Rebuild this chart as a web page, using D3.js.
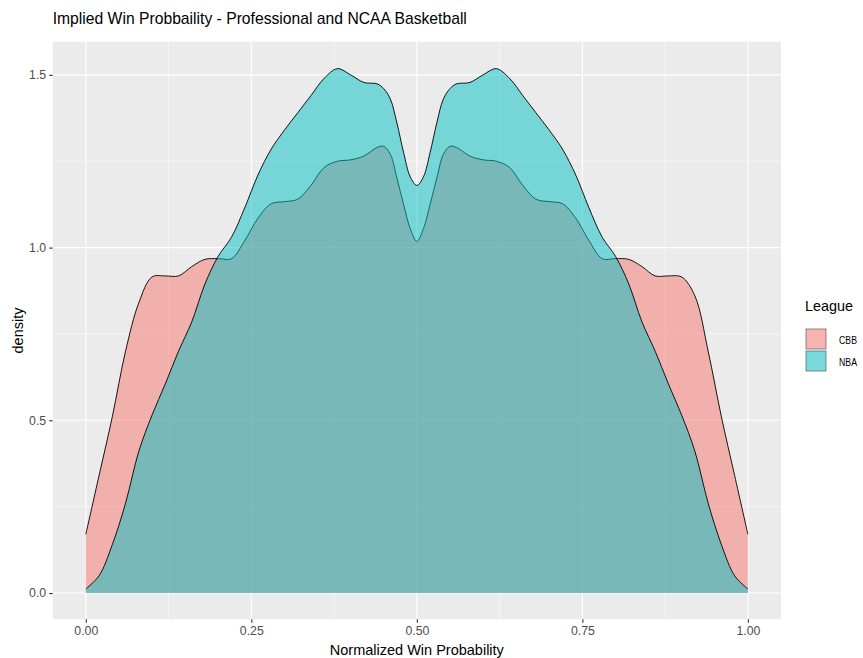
<!DOCTYPE html>
<html>
<head>
<meta charset="utf-8">
<script src="https://cdn.jsdelivr.net/npm/d3@7/dist/d3.min.js"></script>
<style>
  html, body { margin: 0; padding: 0; background: #ffffff; }
  svg { display: block; font-family: "Liberation Sans", Arial, sans-serif; }
</style>
</head>
<body>
<svg id="chart" width="863" height="658"></svg>
<script>
// ---- data ----
const title = "Implied Win Probbaility - Professional and NCAA Basketball";
const xTitle = "Normalized Win Probability";
const yTitle = "density";
const legendTitle = "League";
const leagues = ["CBB", "NBA"];
const leagueColors = ["#F8766D", "#00BFC4"];

const xTicks = [0, 0.25, 0.5, 0.75, 1];
const xTickLabels = ["0.00", "0.25", "0.50", "0.75", "1.00"];
const yTicks = [0, 0.5, 1, 1.5];
const yTickLabels = ["0.0", "0.5", "1.0", "1.5"];

const winProb = [
  0.00, 0.02, 0.04, 0.06, 0.08, 0.10, 0.12, 0.14, 0.16, 0.18, 0.20, 0.22, 0.24, 0.26, 0.28,
  0.30, 0.32, 0.34, 0.36, 0.38, 0.40, 0.42, 0.44,
  0.45, 0.46, 0.47, 0.48, 0.49, 0.50, 0.51, 0.52, 0.53, 0.54, 0.55,
  0.56, 0.58, 0.60, 0.62, 0.64, 0.66, 0.68, 0.70, 0.72, 0.74, 0.76, 0.78, 0.80, 0.82, 0.84,
  0.86, 0.88, 0.90, 0.92, 0.94, 0.96, 0.98, 1.00
];
const cbbDensity = [
  0.17, 0.34, 0.51, 0.70, 0.84, 0.915, 0.918, 0.918, 0.945, 0.966, 0.968, 0.968, 1.02, 1.085, 1.127,
  1.133, 1.14, 1.18, 1.232, 1.25, 1.254, 1.265, 1.29,
  1.293, 1.27, 1.20, 1.125, 1.055, 1.018, 1.055, 1.125, 1.20, 1.27, 1.293,
  1.29, 1.265, 1.254, 1.25, 1.232, 1.18, 1.14, 1.133, 1.127, 1.085, 1.02, 0.968, 0.968, 0.966, 0.945,
  0.918, 0.918, 0.915, 0.86, 0.70, 0.51, 0.34, 0.17
];
const nbaDensity = [
  0.012, 0.05, 0.14, 0.26, 0.41, 0.515, 0.605, 0.70, 0.785, 0.895, 0.975, 1.03, 1.115, 1.21, 1.285,
  1.34, 1.39, 1.44, 1.49, 1.518, 1.50, 1.478, 1.474,
  1.46, 1.43, 1.36, 1.275, 1.205, 1.18, 1.205, 1.275, 1.36, 1.43, 1.46,
  1.474, 1.478, 1.50, 1.518, 1.49, 1.44, 1.39, 1.34, 1.285, 1.21, 1.115, 1.03, 0.975, 0.895, 0.785,
  0.70, 0.605, 0.515, 0.41, 0.26, 0.14, 0.05, 0.012
];

// ---- layout ----
const panel = { left: 52.7, right: 781, top: 41.7, bottom: 619.3 };
const svg = d3.select("#chart");

const x = d3.scaleLinear().domain([-0.05, 1.05]).range([panel.left, panel.right]);
const yMax = 1.52;
const y = d3.scaleLinear().domain([-0.05 * yMax, 1.05 * yMax]).range([panel.bottom, panel.top]);

// panel background
svg.append("rect")
  .attr("x", panel.left).attr("y", panel.top)
  .attr("width", panel.right - panel.left).attr("height", panel.bottom - panel.top)
  .attr("fill", "#EBEBEB");

// grid
const xMinor = [0.125, 0.375, 0.625, 0.875];
const yMinor = [0.25, 0.75, 1.25];
const grid = svg.append("g");
grid.selectAll(".xminor").data(xMinor).enter().append("line")
  .attr("x1", d => x(d)).attr("x2", d => x(d)).attr("y1", panel.top).attr("y2", panel.bottom)
  .attr("stroke", "#FFFFFF").attr("stroke-width", 0.55);
grid.selectAll(".yminor").data(yMinor).enter().append("line")
  .attr("y1", d => y(d)).attr("y2", d => y(d)).attr("x1", panel.left).attr("x2", panel.right)
  .attr("stroke", "#FFFFFF").attr("stroke-width", 0.55);
grid.selectAll(".xmajor").data(xTicks).enter().append("line")
  .attr("x1", d => x(d)).attr("x2", d => x(d)).attr("y1", panel.top).attr("y2", panel.bottom)
  .attr("stroke", "#FFFFFF").attr("stroke-width", 1.1);
grid.selectAll(".ymajor").data(yTicks).enter().append("line")
  .attr("y1", d => y(d)).attr("y2", d => y(d)).attr("x1", panel.left).attr("x2", panel.right)
  .attr("stroke", "#FFFFFF").attr("stroke-width", 1.1);

// densities
const series = [cbbDensity, nbaDensity];
const area = d3.area()
  .x((d, i) => x(winProb[i]))
  .y0(y(0))
  .y1(d => y(d))
  .curve(d3.curveCatmullRom.alpha(0.5));
const line = d3.line()
  .x((d, i) => x(winProb[i]))
  .y(d => y(d))
  .curve(d3.curveCatmullRom.alpha(0.5));

series.forEach((s, k) => {
  svg.append("path").attr("d", area(s))
    .attr("fill", leagueColors[k]).attr("fill-opacity", 0.5);
  svg.append("path").attr("d", line(s))
    .attr("fill", "none").attr("stroke", "#000000").attr("stroke-width", 0.9);
});

// axes
const xAxis = d3.axisBottom(x).tickValues(xTicks).tickFormat((d, i) => xTickLabels[i])
  .tickSizeInner(3.5).tickSizeOuter(0).tickPadding(3);
const gx = svg.append("g").attr("transform", `translate(0,${panel.bottom})`).call(xAxis);
gx.select(".domain").remove();
gx.selectAll(".tick line").attr("stroke", "#333333").attr("stroke-width", 1.1);
gx.selectAll(".tick text").attr("fill", "#4D4D4D").attr("font-size", "12.3px")
  .attr("font-family", "Liberation Sans, Arial, sans-serif");

const yAxis = d3.axisLeft(y).tickValues(yTicks).tickFormat((d, i) => yTickLabels[i])
  .tickSizeInner(3.5).tickSizeOuter(0).tickPadding(3);
const gy = svg.append("g").attr("transform", `translate(${panel.left},0)`).call(yAxis);
gy.select(".domain").remove();
gy.selectAll(".tick line").attr("stroke", "#333333").attr("stroke-width", 1.1);
gy.selectAll(".tick text").attr("fill", "#4D4D4D").attr("font-size", "12.3px")
  .attr("font-family", "Liberation Sans, Arial, sans-serif");

// titles
svg.append("text").attr("x", panel.left).attr("y", 24)
  .attr("font-size", "15.7px").attr("fill", "#000000").text(title);
svg.append("text").attr("x", (panel.left + panel.right) / 2).attr("y", 655)
  .attr("text-anchor", "middle").attr("font-size", "14.5px").attr("fill", "#000000").text(xTitle);
svg.append("text")
  .attr("transform", `translate(23,${(panel.top + panel.bottom) / 2}) rotate(-90)`)
  .attr("text-anchor", "middle").attr("font-size", "14.5px").attr("fill", "#000000").text(yTitle);

// legend
const lg = svg.append("g").attr("transform", "translate(805,0)");
lg.append("text").attr("x", 0).attr("y", 311).attr("font-size", "14.4px").attr("fill", "#000000").text(legendTitle);
leagues.forEach((name, k) => {
  const top = 328 + k * 22;
  lg.append("rect").attr("x", 0).attr("y", top).attr("width", 22).attr("height", 22)
    .attr("fill", "#F2F2F2");
  lg.append("rect").attr("x", 1).attr("y", top + 1).attr("width", 20).attr("height", 20)
    .attr("fill", leagueColors[k]).attr("fill-opacity", 0.5)
    .attr("stroke", "#000000").attr("stroke-width", 0.6).attr("stroke-opacity", 0.6);
  lg.append("text").attr("x", 34).attr("y", top + 15.5).attr("font-size", "11.5px")
    .attr("textLength", 18).attr("lengthAdjust", "spacingAndGlyphs")
    .attr("fill", "#000000").text(name);
});
</script>
</body>
</html>
